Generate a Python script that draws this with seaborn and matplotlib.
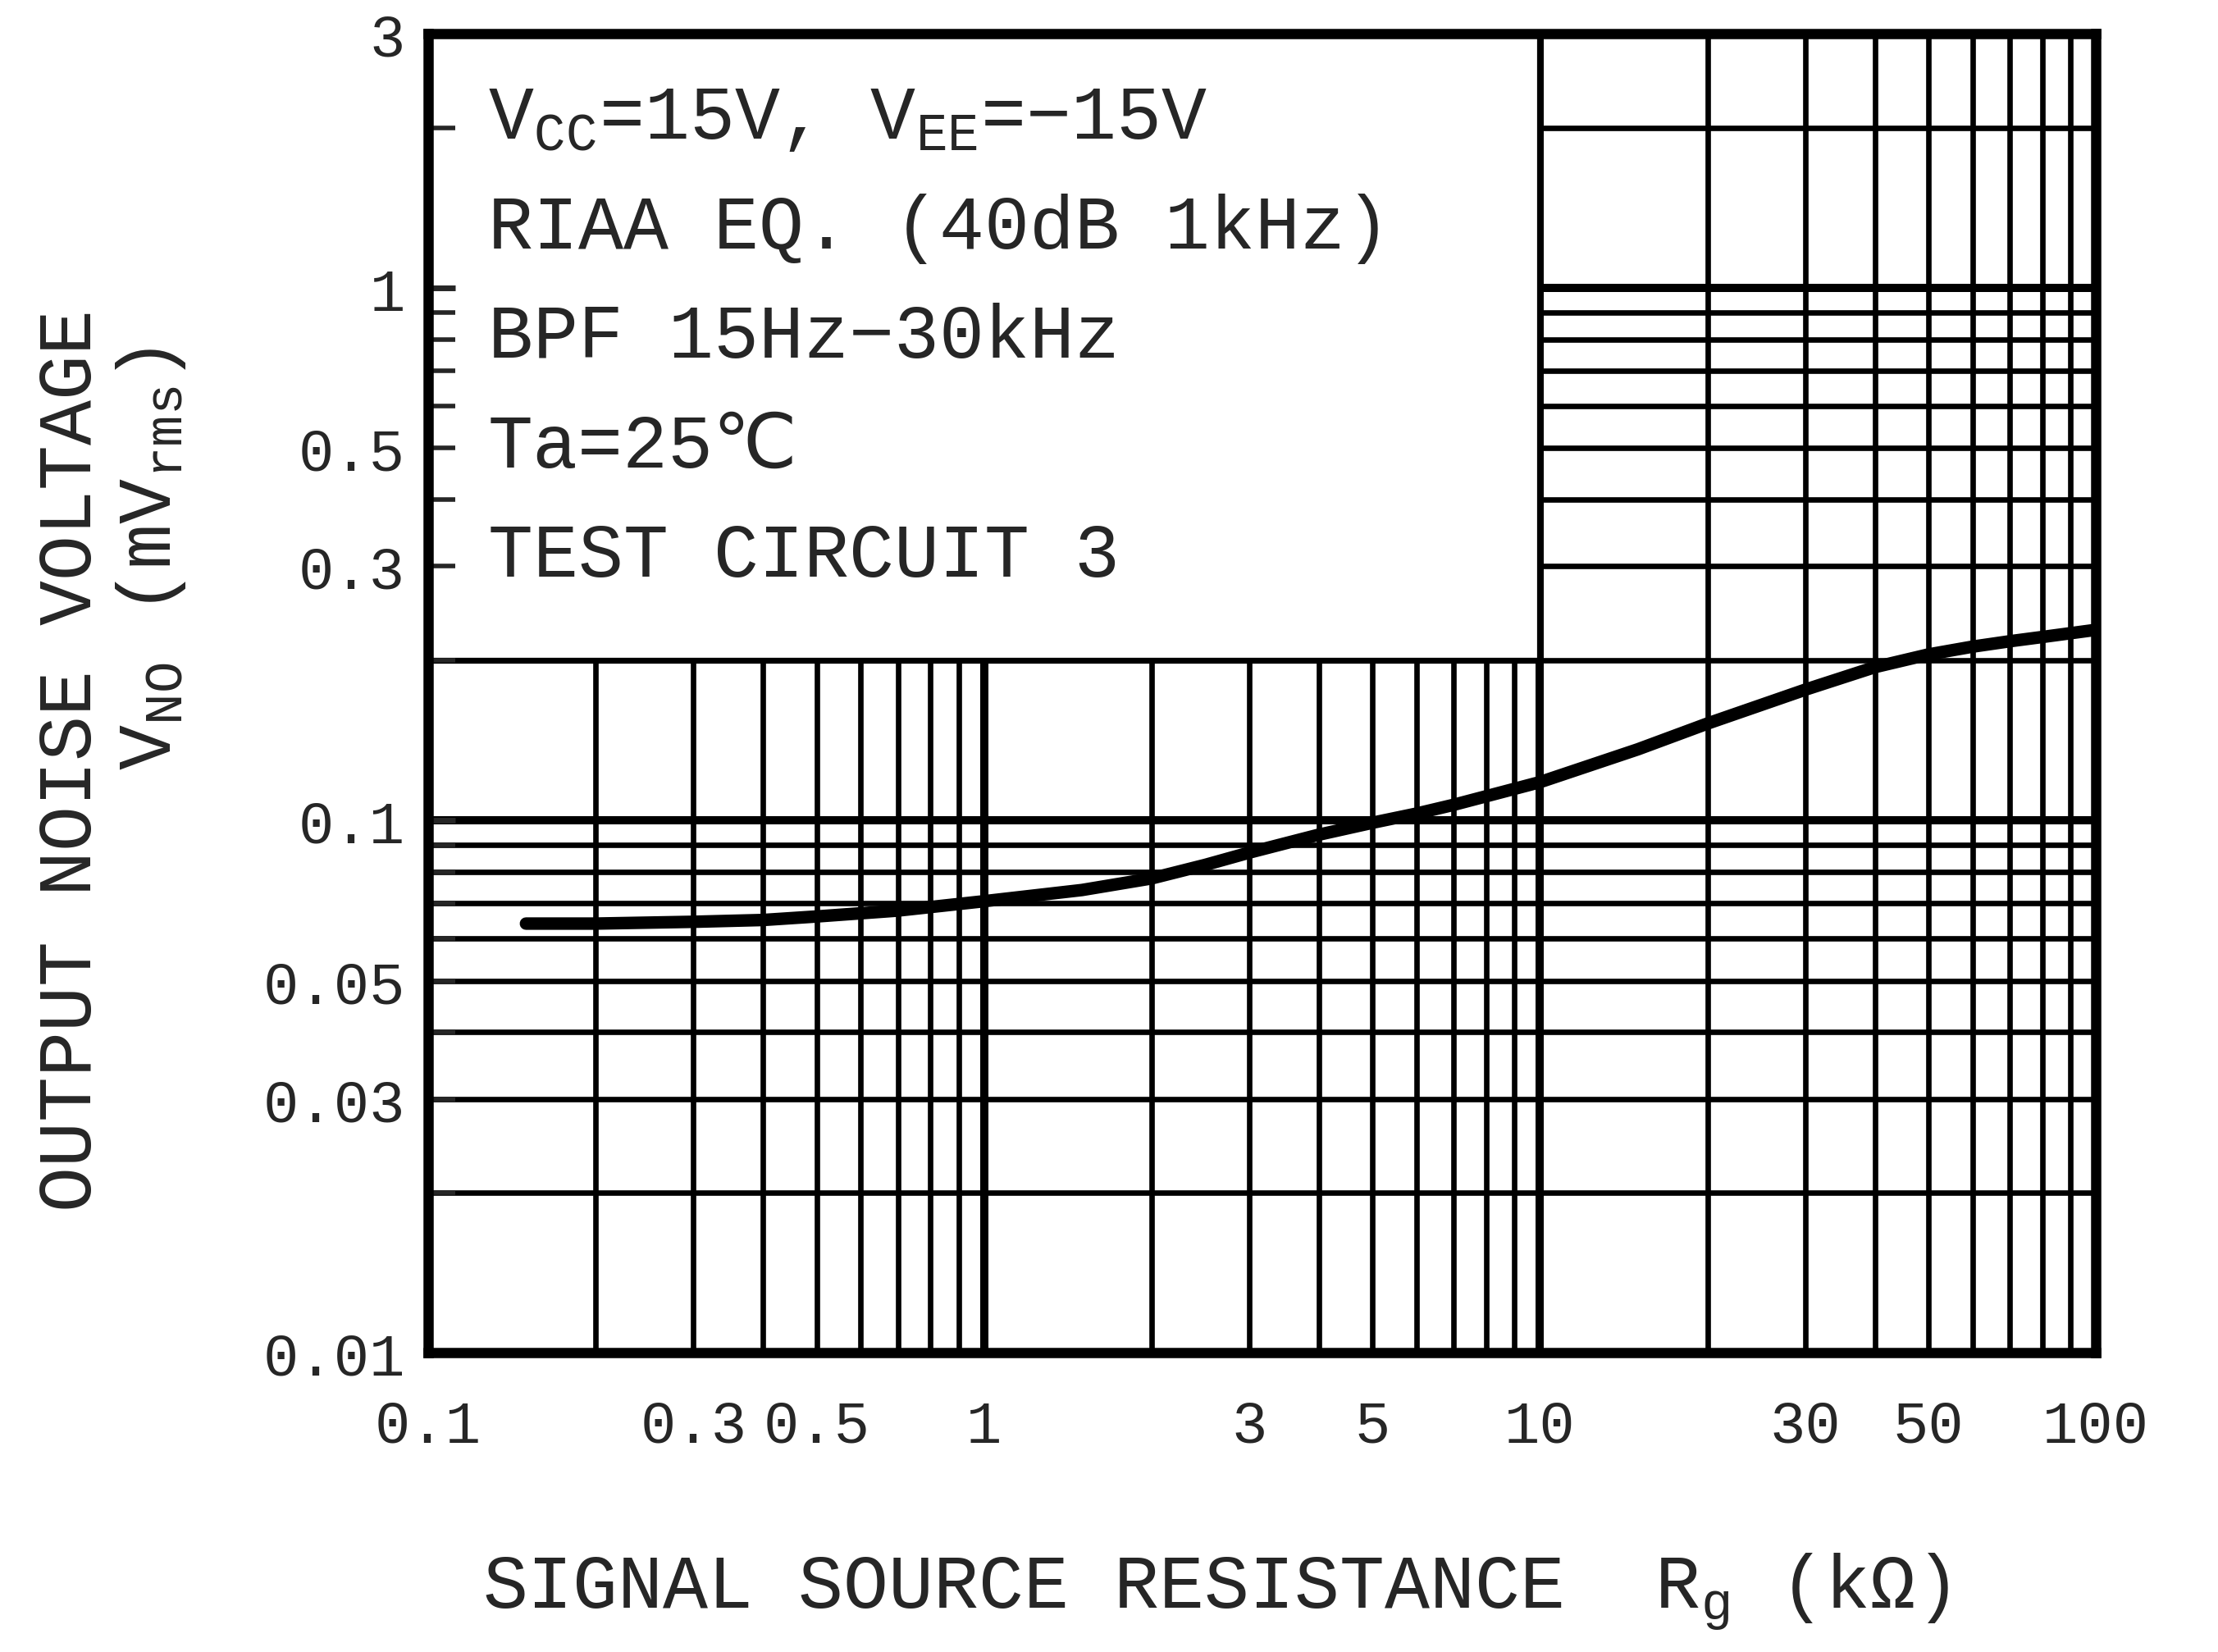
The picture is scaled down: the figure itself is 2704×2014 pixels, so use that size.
import numpy as np
import seaborn as sns
import matplotlib as mpl
mpl.use('Agg')
import matplotlib.pyplot as plt
from matplotlib.ticker import LogLocator, FuncFormatter
from matplotlib.patches import Rectangle

#=====================================================
# values
rg_kohm = [0.15, 0.2, 0.3, 0.4, 0.5, 0.7, 1, 1.5, 2, 2.5, 3, 4, 5, 6, 7, 10, 15, 20, 30, 40, 50, 60,
           70, 80, 100]
vno_mv = [0.064, 0.064, 0.0645, 0.065, 0.066, 0.0677, 0.0705, 0.074, 0.0778, 0.0825, 0.087, 0.094,
          0.099, 0.103, 0.107, 0.118, 0.136, 0.152, 0.176, 0.194, 0.205, 0.212, 0.217, 0.221, 0.228]

x_ticks = [0.1, 0.3, 0.5, 1, 3, 5, 10, 30, 50, 100]
x_tick_labels = ['0.1', '0.3', '0.5', '1', '3', '5', '10', '30', '50', '100']
y_ticks = [0.01, 0.03, 0.05, 0.1, 0.3, 0.5, 1, 3]
y_tick_labels = ['0.01', '0.03', '0.05', '0.1', '0.3', '0.5', '1', '3']

conditions = [r'V$_{\mathrm{CC}}$=15V, V$_{\mathrm{EE}}$=−15V',
              'RIAA EQ. (40dB 1kHz)',
              'BPF 15Hz−30kHz',
              'Ta=25℃',
              'TEST CIRCUIT 3']
# box of conditions (covers the grid), data units
box_x = [0.1, 10]
box_y = [0.2, 3]
#=====================================================
sns.set_style('white')
fonts = ['Liberation Mono', 'DejaVu Sans']
plt.rcParams['font.family'] = fonts
plt.rcParams['mathtext.fontset'] = 'custom'
plt.rcParams['mathtext.rm'] = 'Liberation Mono'
plt.rcParams['mathtext.it'] = 'Liberation Mono'

fig = plt.figure(figsize=(13.52, 10.075), dpi=200)
pos = [0.193, 0.181, 0.752, 0.798]
ax = fig.add_axes(pos)

sns.lineplot(x=rg_kohm, y=vno_mv, ax=ax, color='k', lw=5.5, zorder=3)
ax.set_xscale('log')
ax.set_yscale('log')
ax.set_xlim(x_ticks[0], x_ticks[-1])
ax.set_ylim(y_ticks[0], y_ticks[-1])

def make_fmt(ticks, labels):
    lut = {round(np.log10(t), 3): l for t, l in zip(ticks, labels)}
    return FuncFormatter(lambda v, p: lut.get(round(np.log10(v), 3), ''))

for axis, ticks, labels in [(ax.xaxis, x_ticks, x_tick_labels), (ax.yaxis, y_ticks, y_tick_labels)]:
    axis.set_major_locator(LogLocator(base=10))
    axis.set_minor_locator(LogLocator(base=10, subs=np.arange(2, 10)))
    axis.set_major_formatter(make_fmt(ticks, labels))
    axis.set_minor_formatter(make_fmt(ticks, labels))

ax.set_axisbelow(True)
ax.grid(which='major', color='k', lw=3.6)
ax.grid(which='minor', color='k', lw=2.4)
ax.tick_params(axis='x', which='both', length=0, pad=20, labelsize=26)
ax.tick_params(axis='y', which='both', length=0, pad=10, labelsize=26)
for s in ax.spines.values():
    s.set_visible(False)

# white box with the test conditions
ax.add_patch(Rectangle((box_x[0], box_y[0]), box_x[1] - box_x[0], box_y[1] - box_y[0],
                       facecolor='white', edgecolor='k', lw=2.6, zorder=1))
for i, line in enumerate(conditions):
    ax.text(0.036, 0.936 - i * 0.083, line, transform=ax.transAxes, fontsize=33,
            va='center', ha='left', family=fonts, zorder=4)

# overlay axes: frame and inward ticks on top of the box
ax2 = fig.add_axes(pos, sharex=ax, sharey=ax, facecolor='none')
ax2.grid(False)
ax2.tick_params(axis='both', which='both', direction='in', labelleft=False, labelbottom=False,
                left=True, bottom=False)
ax2.tick_params(axis='y', which='major', length=12, width=2.5)
ax2.tick_params(axis='y', which='minor', length=12, width=2)
for s in ax2.spines.values():
    s.set_linewidth(4.5)
    s.set_color('k')

fig.text(0.032, 0.54, 'OUTPUT NOISE VOLTAGE', rotation=90, ha='center', va='center', fontsize=33)
fig.text(0.068, 0.662, r'V$_{\mathrm{NO}}$ (mV$_{\mathrm{rms}}$)', rotation=90, ha='center',
         va='center', fontsize=33)
fig.text(0.548, 0.037, r'SIGNAL SOURCE RESISTANCE  R$_{\mathrm{g}}$ (kΩ)', ha='center',
         va='center', fontsize=33)

plt.savefig('out.png', dpi=200, facecolor='white')
